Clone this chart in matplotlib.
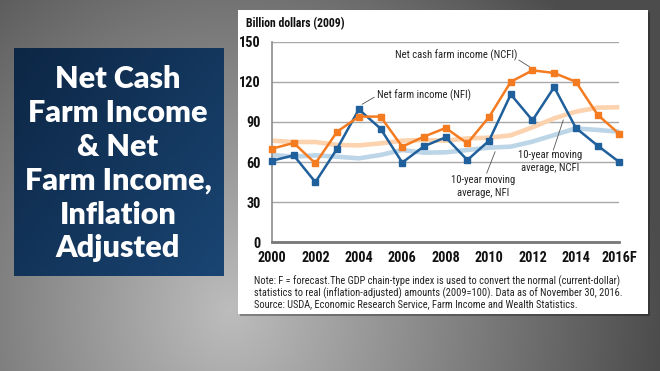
import numpy as np
import matplotlib.pyplot as plt
from matplotlib.patches import Rectangle
from matplotlib import font_manager as fm

years = np.arange(2000, 2017)
xlabels = ["2000", "2002", "2004", "2006", "2008", "2010", "2012", "2014", "2016F"]

nfi = [61, 65, 45, 70, 99.4, 85, 59.6, 71.8, 78.5, 61.5, 76, 110.6, 91.2, 116, 85.5, 72.3, 60]
ncfi = [70, 74.3, 59, 82.7, 94, 94, 71.5, 79, 85.5, 74, 93.7, 120, 128.6, 126.6, 120, 95.4, 81]
ma_ncfi = [76, 75, 75, 72.8, 72.5, 74, 76, 76.5, 76, 77.7, 78.2, 80, 86, 92.7, 97.7, 100.7, 101]
ma_nfi = [65.3, 64, 65, 64, 62.8, 65.3, 69, 67, 67.3, 69, 70.8, 71.5, 75.3, 80.2, 85.2, 84, 82.7]

W, H = 660, 371

# pick a narrow font if one is around
names = {f.name for f in fm.fontManager.ttflist}
stretch = 'normal'
fam = 'Liberation Sans'
for n in ['Liberation Sans Narrow', 'Roboto Condensed', 'DejaVu Sans Condensed', 'Open Sans Condensed']:
    if n in names:
        fam = n
        break
else:
    if any(f.name == 'DejaVu Sans' and f.stretch == 'condensed' for f in fm.fontManager.ttflist):
        fam, stretch = 'DejaVu Sans', 'condensed'
narrow = [fam, 'DejaVu Sans']
scale = 1.0 if fam != 'Liberation Sans' else 0.88

fig = plt.figure(figsize=(6.6, 3.71), dpi=100)

# grey radial background
bg = fig.add_axes([0, 0, 1, 1])
yy, xx = np.mgrid[0:H, 0:W]
r = np.sqrt((xx - 230) ** 2 + ((yy - 310) / 1.1) ** 2)
v = np.clip(0.74 - r / 430 * 0.44, 0.30, 0.74)
bg.imshow(np.dstack([v, v, v]), extent=[0, W, H, 0], aspect='auto')
bg.set_xlim(0, W)
bg.set_ylim(H, 0)
bg.axis('off')

# navy title box
box = fig.add_axes([13.5 / W, (H - 276) / H, (223 - 13.5) / W, (276 - 48) / H])
gy, gx = np.mgrid[0:50, 0:50] / 49.0
t = 0.55 * gx + 0.45 * gy
c0 = np.array([0.05, 0.15, 0.27])
c1 = np.array([0.10, 0.27, 0.45])
box.imshow(c0 + (c1 - c0) * t[..., None], extent=[0, 1, 0, 1], aspect='auto')
box.axis('off')
title_lines = ["Net Cash", "Farm Income", "& Net", "Farm Income,", "Inflation", "Adjusted"]
ys = [79, 113, 147, 181, 215, 248]
for s, y in zip(title_lines, ys):
    fig.text(118 / W, 1 - y / H, s, color='white', fontsize=22, fontweight='heavy',
             family='Lato', ha='center', va='center')

# white card with shadow
bg.add_patch(Rectangle((240, 12), 410, 304, color='black', alpha=0.3, lw=0))
bg.add_patch(Rectangle((238, 10), 410, 304, color='white', lw=0))

ax = fig.add_axes([272 / W, 128.7 / H, 347.3 / W, 200.6 / H])
ax.set_xlim(2000, 2016)
ax.set_ylim(0, 150)
ax.set_yticks([0, 30, 60, 90, 120, 150])
ax.set_xticks(years[::2])
ax.set_xticklabels(xlabels)
ax.grid(axis='y', color='#a8a8a8', lw=1)
ax.set_axisbelow(True)
for s in ['top', 'right']:
    ax.spines[s].set_visible(False)
ax.spines['left'].set_color('#8c8c8c')
ax.spines['left'].set_linewidth(1.2)
ax.spines['bottom'].set_color('#777777')
ax.spines['bottom'].set_linewidth(2)
ax.tick_params(axis='y', length=0, pad=8)
ax.tick_params(axis='x', length=0, pad=6)
for lab in ax.get_xticklabels() + ax.get_yticklabels():
    lab.set_family(narrow)
    lab.set_stretch(stretch)
    lab.set_fontweight('bold')
    lab.set_fontsize(10.3 * scale)
    lab.set_color('#111111')

ax.plot(years, ma_ncfi, color='#fcd3ae', lw=3.3, solid_capstyle='butt', clip_on=False)
ax.plot(years, ma_nfi, color='#bcd5e7', lw=3.3, solid_capstyle='butt', clip_on=False)
ax.plot(years, nfi, color='#1f5f9b', lw=1.8, marker='s', ms=4.5, clip_on=False, zorder=4)
ax.plot(years, ncfi, color='#f47b20', lw=1.8, marker='s', ms=4.5, clip_on=False, zorder=5)

kw = dict(fontsize=7.7 * scale, family=narrow, stretch=stretch, color='#222222',
          ha='center', va='center', linespacing=1.3)
lk = dict(arrowstyle='-', color='#555555', lw=0.6, shrinkA=0, shrinkB=0)
ax.text(2008.48, 139.6, "Net cash farm income (NCFI)", **kw)
ax.annotate("", xy=(2011.86, 131.3), xytext=(2011.37, 136.3), arrowprops=lk)
ax.text(2007.02, 110.2, "Net farm income (NFI)", **kw)
ax.annotate("", xy=(2004.15, 103.2), xytext=(2004.71, 108.5), arrowprops=lk)
ax.text(2012.81, 60.3, "10-year moving\naverage, NCFI", **kw)
ax.annotate("", xy=(2013.42, 91.5), xytext=(2012.96, 69), arrowprops=lk)
ax.text(2009.71, 41.6, "10-year moving\naverage, NFI", **kw)
ax.annotate("", xy=(2010.28, 67.8), xytext=(2009.89, 51.6), arrowprops=lk)

fig.text(246 / W, 1 - 24 / H, "Billion dollars (2009)", fontsize=8.5 * scale, fontweight='bold',
         family=narrow, stretch=stretch, color='#111111', ha='left', va='center')
note = ("Note: F = forecast.The GDP chain-type index is used to convert the normal (current-dollar)\n"
        "statistics to real (inflation-adjusted) amounts (2009=100). Data as of November 30, 2016.\n"
        "Source: USDA, Economic Research Service, Farm Income and Wealth Statistics.")
fig.text(254 / W, 1 - 275.5 / H, note, fontsize=7.5 * scale, family=narrow, stretch=stretch,
         color='#222222', ha='left', va='top', linespacing=1.05)

fig.savefig('out.png', dpi=100)
